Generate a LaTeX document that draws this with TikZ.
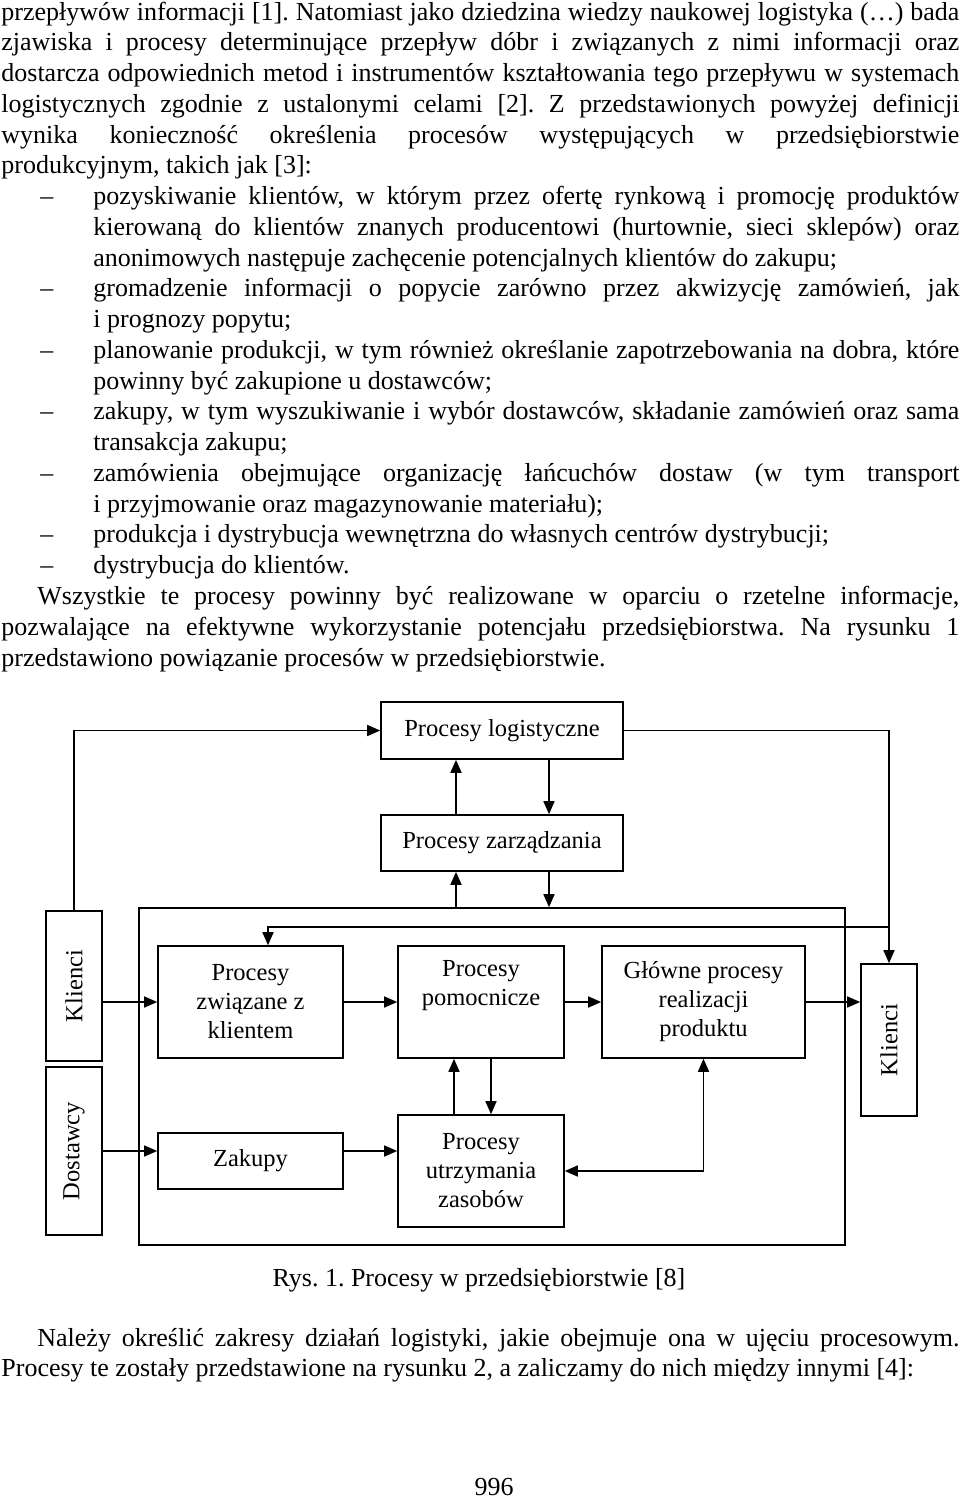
\documentclass[tikz,border=0pt]{standalone}
\usepackage{fontspec}
\setmainfont{Liberation Serif}
\usetikzlibrary{arrows.meta}
\frenchspacing

\begin{document}
\begin{tikzpicture}[x=0.5pt, y=-0.5pt,
  txt/.style={inner sep=0pt, anchor=base west, font=\fontsize{13}{15}\selectfont},
  box/.style={draw, line width=0.8pt, inner sep=0pt, align=center, font=\fontsize{12.25}{14.5}\selectfont},
  arr/.style={line width=0.8pt, -{Triangle[length=6.5pt,width=5.5pt]}},
  arrs/.style={line width=0.8pt, {Triangle[length=6.5pt,width=5.5pt]}-{Triangle[length=6.5pt,width=5.5pt]}}]

\fill[white] (0,0) rectangle (960,1500);
\useasboundingbox (0,0) rectangle (960,1500);

% text above the figure
\node[txt] (l0) at (1,20) {\makebox[479pt][s]{przepływów informacji [1]. Natomiast jako dziedzina wiedzy naukowej logistyka (…) bada}};
\node[txt] (l1) at (1,50.8) {\makebox[479pt][s]{zjawiska i procesy determinujące przepływ dóbr i związanych z nimi informacji oraz}};
\node[txt] (l2) at (1,81.5) {\makebox[479pt][s]{dostarcza odpowiednich metod i instrumentów kształtowania tego przepływu w systemach}};
\node[txt] (l3) at (1,112.3) {\makebox[479pt][s]{logistycznych zgodnie z ustalonymi celami [2]. Z przedstawionych powyżej definicji}};
\node[txt] (l4) at (1,143) {\makebox[479pt][s]{wynika konieczność określenia procesów występujących w przedsiębiorstwie}};
\node[txt] (l5) at (1,173.8) {produkcyjnym, takich jak [3]:};

\foreach \y/\n in {204.6/6, 296.8/9, 358.4/11, 419.9/13, 481.4/15, 542.9/17, 573.7/18}
  \node[txt] (d\n) at (40,\y) {–};

\node[txt] (l6) at (93,204.6) {\makebox[433pt][s]{pozyskiwanie klientów, w którym przez ofertę rynkową i promocję produktów}};
\node[txt] (l7) at (93,235.3) {\makebox[433pt][s]{kierowaną do klientów znanych producentowi (hurtownie, sieci sklepów) oraz}};
\node[txt] (l8) at (93,266.1) {anonimowych następuje zachęcenie potencjalnych klientów do zakupu;};
\node[txt] (l9) at (93,296.8) {\makebox[433pt][s]{gromadzenie informacji o popycie zarówno przez akwizycję zamówień, jak}};
\node[txt] (l10) at (93,327.6) {i prognozy popytu;};
\node[txt] (l11) at (93,358.4) {\makebox[433pt][s]{planowanie produkcji, w tym również określanie zapotrzebowania na dobra, które}};
\node[txt] (l12) at (93,389.1) {powinny być zakupione u dostawców;};
\node[txt] (l13) at (93,419.9) {\makebox[433pt][s]{zakupy, w tym wyszukiwanie i wybór dostawców, składanie zamówień oraz sama}};
\node[txt] (l14) at (93,450.6) {transakcja zakupu;};
\node[txt] (l15) at (93,481.4) {\makebox[433pt][s]{zamówienia obejmujące organizację łańcuchów dostaw (w tym transport}};
\node[txt] (l16) at (93,512.2) {i przyjmowanie oraz magazynowanie materiału);};
\node[txt] (l17) at (93,542.9) {produkcja i dystrybucja wewnętrzna do własnych centrów dystrybucji;};
\node[txt] (l18) at (93,573.7) {dystrybucja do klientów.};

\node[txt] (l19) at (37,604.4) {\makebox[461pt][s]{Wszystkie te procesy powinny być realizowane w oparciu o rzetelne informacje,}};
\node[txt] (l20) at (1,635.2) {\makebox[479pt][s]{pozwalające na efektywne wykorzystanie potencjału przedsiębiorstwa. Na rysunku 1}};
\node[txt] (l21) at (1,666) {przedstawiono powiązanie procesów w przedsiębiorstwie.};

% figure
\node[box, minimum width=121pt, minimum height=28.5pt] (log) at (502,730.5) {Procesy logistyczne};
\node[box, minimum width=121pt, minimum height=28pt] (zarz) at (502,843) {Procesy zarządzania};
\node[box, minimum width=353pt, minimum height=168.5pt] (big) at (492,1076.5) {};

% rotated boxes: east = top, south = right side
\node[box, rotate=90, minimum width=75pt, minimum height=28pt] (klL) at (74,986) {Klienci};
\node[box, rotate=90, minimum width=84pt, minimum height=28pt] (dost) at (74,1151) {Dostawcy};
\node[box, rotate=90, minimum width=76pt, minimum height=28pt] (klR) at (889,1040) {Klienci};

\node[box, minimum width=92.5pt, minimum height=56pt] (zw) at (250.5,1002) {Procesy\\związane z\\klientem};
\node[box, minimum width=83pt, minimum height=56pt] (pom) at (481,1002) {Procesy\\pomocnicze\\\strut};
\node[box, minimum width=101.5pt, minimum height=56pt] (glow) at (703.5,1002) {Główne procesy\\realizacji\\produktu};
\node[box, minimum width=92.5pt, minimum height=28pt] (zak) at (250.5,1161) {Zakupy};
\node[box, minimum width=83pt, minimum height=56pt] (utrz) at (481,1171) {Procesy\\utrzymania\\zasobów};

\draw[arr] (klL.east) |- (log.west);
\draw[arr] (log.east) -| (klR.east);
\coordinate (fb) at (889,927);
\draw[arr] (fb) -| ([xshift=8.75pt]zw.north);

\draw[arr] ([xshift=-23pt]zarz.north) -- ([xshift=-23pt]log.south);
\draw[arr] ([xshift=23.5pt]log.south) -- ([xshift=23.5pt]zarz.north);
\draw[arr] ([xshift=-23pt]zarz.south |- big.north) -- ([xshift=-23pt]zarz.south);
\draw[arr] ([xshift=23.5pt]zarz.south) -- ([xshift=23.5pt]zarz.south |- big.north);

\draw[arr] (klL.south |- zw.west) -- (zw.west);
\draw[arr] (dost.south) -- (zak.west |- dost.south);
\draw[arr] (zw.east) -- (pom.west);
\draw[arr] (pom.east) -- (glow.west);
\draw[arr] (glow.east) -- (klR.north |- glow.east);
\draw[arr] (zak.east |- dost.south) -- (utrz.west |- dost.south);
\draw[arr] ([xshift=-13.5pt]utrz.north) -- ([xshift=-13.5pt]utrz.north |- pom.south);
\draw[arr] ([xshift=5pt]pom.south) -- ([xshift=5pt]pom.south |- utrz.north);
\draw[arrs] (utrz.east) -| (glow.south);

\node[txt, anchor=base] (cap) at (479,1286) {Rys. 1. Procesy w przedsiębiorstwie [8]};

% text below the figure
\node[txt] (n1) at (37,1346) {\makebox[461pt][s]{Należy określić zakresy działań logistyki, jakie obejmuje ona w ujęciu procesowym.}};
\node[txt] (n2) at (1,1376) {Procesy te zostały przedstawione na rysunku 2, a zaliczamy do nich między innymi [4]:};
\node[txt, anchor=base] (pg) at (494,1495) {996};

\end{tikzpicture}
\end{document}
